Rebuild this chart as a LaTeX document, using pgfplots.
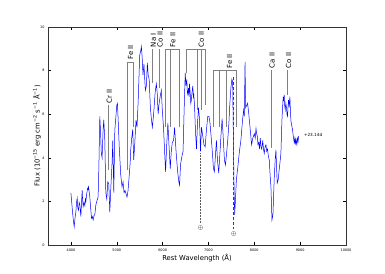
\documentclass[border=0pt]{standalone}
\usepackage{pgfplots}
\pgfplotsset{compat=1.18}
\usepackage{fontspec}
\setmainfont{DejaVu Sans}
\pgfplotstableread{
lam flux
4000 2.38
4018 1.95
4037 1.47
4055 1.10
4072 0.84
4090 1.25
4109 1.53
4122 1.95
4137 2.15
4150 1.70
4167 1.60
4180 1.95
4196 1.85
4207 1.55
4217 1.30
4230 1.90
4246 2.52
4256 2.05
4267 1.76
4285 1.95
4304 1.80
4315 2.10
4326 2.00
4345 2.35
4363 2.60
4375 2.55
4385 2.67
4400 2.40
4413 2.20
4430 1.70
4450 1.22
4468 1.30
4485 1.15
4503 1.35
4522 1.40
4543 1.83
4558 1.95
4572 2.06
4593 2.20
4609 3.50
4630 5.90
4646 5.20
4663 4.20
4680 4.00
4702 5.30
4717 5.75
4739 4.80
4761 2.40
4783 2.10
4804 2.90
4826 2.80
4848 1.50
4870 2.60
4898 3.80
4913 4.80
4935 2.40
4957 5.27
4978 5.80
5000 6.40
5015 6.50
5033 5.60
5054 4.50
5087 3.20
5115 2.66
5137 2.90
5159 2.40
5180 2.50
5202 2.35
5224 2.20
5246 2.50
5272 3.20
5293 3.80
5304 4.36
5326 4.90
5348 5.30
5370 3.90
5391 4.60
5420 5.73
5441 5.40
5467 6.60
5500 8.70
5522 8.90
5537 9.10
5554 8.60
5572 7.80
5593 8.30
5610 7.60
5624 7.10
5646 7.30
5667 8.35
5685 7.80
5707 7.60
5733 6.30
5754 5.80
5776 5.40
5804 6.00
5837 7.00
5863 7.40
5885 6.90
5902 6.00
5924 6.50
5946 6.80
5972 7.10
5993 6.20
6022 5.30
6043 4.30
6065 3.36
6087 4.50
6115 5.60
6141 4.50
6167 3.50
6189 4.30
6211 4.70
6239 4.80
6261 5.40
6293 4.30
6326 3.40
6354 2.90
6370 2.75
6391 3.70
6424 4.10
6446 4.30
6467 6.00
6493 7.90
6511 7.30
6528 7.60
6540 7.00
6550 6.90
6565 7.20
6578 6.80
6587 7.40
6604 6.90
6614 6.50
6624 6.60
6641 7.00
6659 7.30
6670 6.80
6680 6.90
6696 6.40
6717 5.20
6739 4.40
6761 5.60
6783 6.30
6804 5.80
6826 4.30
6848 5.40
6876 5.00
6902 4.60
6928 4.50
6957 5.30
6985 5.90
7011 5.90
7033 5.60
7065 4.80
7087 4.20
7109 3.50
7130 3.36
7152 4.10
7174 4.80
7196 3.90
7224 3.30
7250 4.20
7272 5.00
7298 5.80
7320 5.00
7348 3.90
7370 3.67
7391 4.10
7420 4.80
7446 5.60
7467 6.50
7489 7.20
7511 7.60
7528 7.50
7543 5.00
7559 2.50
7572 1.38
7587 2.00
7609 3.00
7637 3.50
7674 4.27
7707 4.80
7746 5.80
7768 6.20
7783 5.90
7798 8.40
7811 6.30
7833 6.40
7854 6.50
7880 6.00
7902 5.50
7941 4.60
7967 4.90
8000 5.10
8020 4.90
8037 5.35
8052 5.10
8065 5.00
8080 4.60
8098 4.70
8115 4.40
8130 4.90
8147 4.50
8163 4.40
8185 4.80
8200 4.40
8217 4.20
8235 4.50
8254 4.60
8270 4.30
8289 4.40
8305 4.10
8326 3.90
8345 3.20
8363 2.66
8385 1.15
8407 1.40
8420 2.20
8435 3.10
8455 3.90
8472 4.36
8487 3.50
8500 2.84
8522 3.00
8540 3.40
8559 3.76
8580 4.20
8602 5.70
8617 6.30
8630 6.80
8642 6.60
8652 6.90
8663 6.40
8674 6.20
8688 6.50
8702 6.30
8713 6.00
8724 5.90
8735 6.30
8746 6.65
8760 6.40
8776 6.80
8787 6.20
8798 5.70
8815 5.50
8833 5.30
8850 5.00
8870 4.70
8885 4.90
8895 4.60
8907 4.90
8918 4.70
8928 4.60
8941 4.90
8955 4.75
8967 5.00
}\spec
\begin{document}
\begin{tikzpicture}
\begin{axis}[
  scale only axis, width=298pt, height=218pt,
  at={(0,0)}, anchor=south west,
  xmin=3500, xmax=10000, ymin=0, ymax=10,
  xtick={4000,5000,...,10000}, ytick={0,2,...,10},
  tick align=inside, major tick length=3pt,
  tick style={black, line width=0.4pt},
  axis line style={black!80, line width=0.6pt},
  /pgf/number format/assume math mode=true,
  /pgf/number format/1000 sep={},
  scaled x ticks=false,
  ticklabel style={font=\fontsize{3.4}{4}\selectfont},
  xlabel={Rest Wavelength (Å)},
  ylabel={Flux (10\textsuperscript{−15} erg cm\textsuperscript{−2} s\textsuperscript{−1} Å\textsuperscript{−1})},
  xlabel style={font=\fontsize{6.8}{8}\selectfont, at={(axis description cs:0.5,-0.06)}, anchor=center},
  ylabel style={font=\fontsize{6.8}{8}\selectfont, at={(axis description cs:-0.037,0.5)}, anchor=center},
  clip=false,
]
\addplot[blue, line width=0.5pt] table[x=lam, y=flux] {\spec};
% line identifications
\tikzset{idl/.style={gray, line width=0.6pt}, lab/.style={font=\fontsize{7}{8}\selectfont, rotate=90, anchor=west, inner sep=1pt}}
\draw[idl] (axis cs:4811,3.44) -- (axis cs:4811,6.42);
\node[lab] at (axis cs:4840,6.45) {Cr II};
\draw[idl] (axis cs:5224,3.44) -- (axis cs:5224,8.4) -- (axis cs:5354,8.4) -- (axis cs:5354,5.4);
\node[lab] at (axis cs:5300,8.45) {Fe II};
\draw[idl] (axis cs:5776,7.45) -- (axis cs:5776,8.99);
\node[lab] at (axis cs:5800,9.02) {Na I};
\draw[idl] (axis cs:5920,7.2) -- (axis cs:5920,8.99);
\node[lab] at (axis cs:5945,9.02) {Co II};
\draw[idl] (axis cs:6059,5.41) -- (axis cs:6059,8.99) -- (axis cs:6354,8.99) -- (axis cs:6354,5.41);
\draw[idl] (axis cs:6174,5.41) -- (axis cs:6174,8.99);
\node[lab] at (axis cs:6225,9.02) {Fe II};
\draw[idl] (axis cs:6511,7.9) -- (axis cs:6511,8.99) -- (axis cs:6928,8.99) -- (axis cs:6928,6.4);
\draw[idl] (axis cs:6750,6.2) -- (axis cs:6750,8.99);
\draw[idl] (axis cs:6841,6.2) -- (axis cs:6841,8.99);
\node[lab] at (axis cs:6845,9.02) {Co II};
\draw[idl] (axis cs:7115,5.41) -- (axis cs:7115,8.0) -- (axis cs:7615,8.0) -- (axis cs:7615,5.41);
\draw[idl] (axis cs:7228,5.41) -- (axis cs:7228,8.0);
\draw[idl] (axis cs:7385,5.41) -- (axis cs:7385,8.0);
\node[lab] at (axis cs:7460,8.05) {Fe II};
\draw[idl] (axis cs:8363,4.45) -- (axis cs:8363,8.03);
\node[lab] at (axis cs:8390,8.06) {Ca II};
\draw[idl] (axis cs:8724,6.88) -- (axis cs:8724,8.03);
\node[lab] at (axis cs:8750,8.06) {Co II};
% telluric
\draw[gray!70!black, densely dotted, line width=0.5pt] (axis cs:6826,4.2) -- (axis cs:6826,1.0);
\node[font=\fontsize{6}{7}\selectfont, inner sep=0pt] at (axis cs:6826,0.78) {$\oplus$};
\draw[black!75, densely dashed, line width=0.5pt] (axis cs:7550,7.7) -- (axis cs:7550,0.75);
\node[font=\fontsize{6}{7}\selectfont, inner sep=0pt] at (axis cs:7550,0.52) {$\oplus$};
\node[font=\fontsize{4.2}{5}\selectfont, anchor=west, inner sep=0pt] at (axis cs:9080,5.05) {+23.14d};
\end{axis}
\path (-48pt,-28pt) rectangle (337pt,245pt);
\end{tikzpicture}
\end{document}
